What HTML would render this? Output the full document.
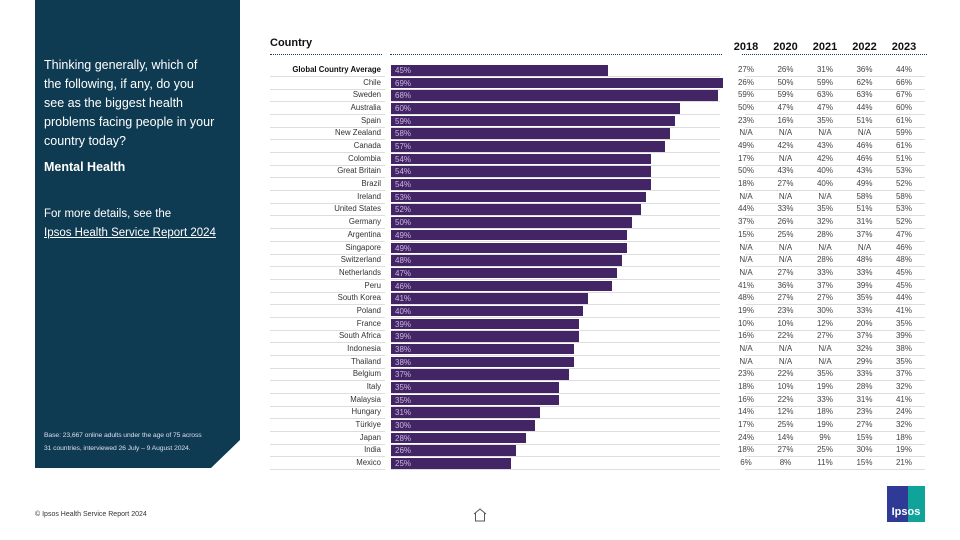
<!DOCTYPE html>
<html><head><meta charset="utf-8"><style>
body{margin:0;width:960px;height:540px;background:#fff;font-family:"Liberation Sans",sans-serif;position:relative;overflow:hidden}
.abs{position:absolute}
#panel{left:35px;top:0;width:205px;height:468px;background:#0f3b52;clip-path:polygon(0 0,100% 0,100% 440px,176px 100%,0 100%)}
.lt{color:#fff;font-size:12.5px;line-height:19px;left:44px;width:172px}
.row-t{font-size:7.8px;color:#333;text-align:right}
.cell{font-size:8px;color:#444;text-align:center;width:34px}
.hdr{font-size:11px;font-weight:bold;color:#111}
.dot{border-top:1.5px dotted #1b3b5a;height:0}
</style></head><body>
<div id="panel" class="abs"></div>
<div class="abs lt" style="top:56px">Thinking generally, which of the following, if any, do you see as the biggest health problems facing people in your country today?</div>
<div class="abs lt" style="top:158px;font-weight:bold">Mental Health</div>
<div class="abs lt" style="top:205px;font-size:11.5px;width:190px">For more details, see the<br><span style="text-decoration:underline">Ipsos Health Service Report 2024</span></div>
<div class="abs lt" style="top:429px;font-size:6.8px;line-height:13px;color:#dde;width:186px;letter-spacing:-0.1px">Base: 23,667 online adults under the age of 75 across<br>31 countries, interviewed 26 July – 9 August 2024.</div>
<div class="abs" style="left:35px;top:511px;font-size:7px;color:#333">© Ipsos Health Service Report 2024</div>
<svg class="abs" style="left:472px;top:507px" width="16" height="16"><path d="M2 7 L8 2 L14 7 M3.5 6 V14 H12.5 V6" fill="none" stroke="#555" stroke-width="1"/></svg>
<div class="abs" style="left:887px;top:486px;width:38px;height:36px;background:linear-gradient(90deg,#2e3a95 55%,#0fa39a 55%);color:#fff;font-weight:bold;font-size:11px;text-align:center;line-height:52px">Ipsos</div>
<div class="abs hdr" style="left:270px;top:37px">Country</div>
<div class="abs dot" style="left:270px;top:54px;width:112px"></div>
<div class="abs dot" style="left:390px;top:54px;width:332px"></div>
<div class="abs dot" style="left:742px;top:54px;width:185px"></div>
<div id="chart"></div>
<script>
const countries=["Global Country Average","Chile","Sweden","Australia","Spain","New Zealand","Canada","Colombia","Great Britain","Brazil","Ireland","United States","Germany","Argentina","Singapore","Switzerland","Netherlands","Peru","South Korea","Poland","France","South Africa","Indonesia","Thailand","Belgium","Italy","Malaysia","Hungary","Türkiye","Japan","India","Mexico"];
const values2024=[45,69,68,60,59,58,57,54,54,54,53,52,50,49,49,48,47,46,41,40,39,39,38,38,37,35,35,31,30,28,26,25];
const years=["2018","2020","2021","2022","2023"];
const v2018=[27,26,59,50,23,null,49,17,50,18,null,44,37,15,null,null,null,41,48,19,10,16,null,null,23,18,16,14,17,24,18,6];
const v2020=[26,50,59,47,16,null,42,null,43,27,null,33,26,25,null,null,27,36,27,23,10,22,null,null,22,10,22,12,25,14,27,8];
const v2021=[31,59,63,47,35,null,43,42,40,40,null,35,32,28,null,28,33,37,27,30,12,27,null,null,35,19,33,18,19,9,25,11];
const v2022=[36,62,63,44,51,null,46,46,43,49,58,51,31,37,null,48,33,39,35,33,20,37,32,29,33,28,31,23,27,15,30,15];
const v2023=[44,66,67,60,61,59,61,51,53,52,58,53,52,47,46,48,45,45,44,41,35,39,38,35,37,32,41,24,32,18,19,21];
const x0=391,pxPer=(723-391)/69,y0=70,pitch=12.68;
const xs=v=>x0+v*pxPer, ys=i=>y0+i*pitch;
const c=document.getElementById('chart');
years.forEach((y,j)=>{const d=document.createElement('div');d.className='abs hdr';d.style.left=(729+j*39.5)+'px';d.style.top='41px';d.style.width='34px';d.style.textAlign='center';d.textContent=y;


c.appendChild(d);});
const cols=[v2018,v2020,v2021,v2022,v2023];
countries.forEach((n,i)=>{
const cy=ys(i);
const l=document.createElement('div');l.className='abs row-t';l.style.left='250px';l.style.width='131px';l.style.top=(cy-5)+'px';l.textContent=n;if(i==0){l.style.fontWeight='bold';l.style.color='#111';}


c.appendChild(l);
const b=document.createElement('div');b.className='abs';b.style.left=x0+'px';b.style.top=(cy-5)+'px';b.style.height='10.5px';b.style.width=(xs(values2024[i])-x0)+'px';b.style.background='#432566';b.style.color='#c9b8e0';b.style.fontSize='8px';b.style.lineHeight='11px';b.style.paddingLeft='4px';b.style.boxSizing='border-box';b.textContent=values2024[i]+'%';


c.appendChild(b);
[[270,385],[391,720],[745,925]].forEach(r=>{const s=document.createElement('div');s.className='abs';s.style.left=r[0]+'px';s.style.width=(r[1]-r[0])+'px';s.style.top=(cy+6)+'px';s.style.height='1px';s.style.background='#ddd';c.appendChild(s);});
cols.forEach((col,j)=>{const t=document.createElement('div');t.className='abs cell';t.style.left=(729+j*39.5)+'px';t.style.top=(cy-5)+'px';t.textContent=col[i]==null?'N/A':col[i]+'%';


c.appendChild(t);});
});
</script>
</body></html>
